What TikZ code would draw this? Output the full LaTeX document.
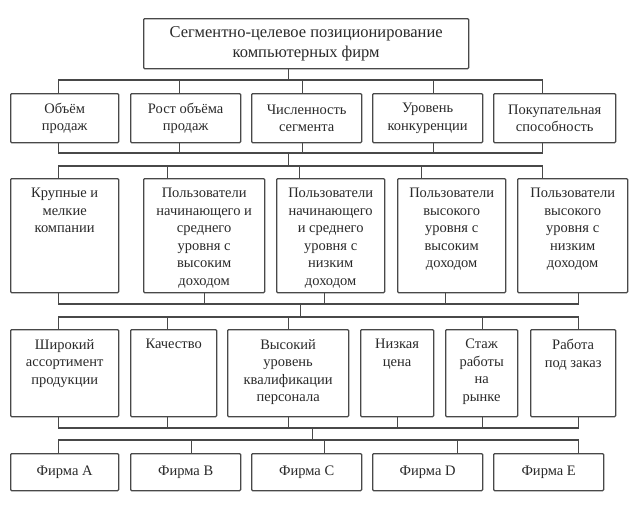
\documentclass[tikz,border=0pt]{standalone}
\usepackage{fontspec}
\setmainfont{Liberation Serif}
\usetikzlibrary{calc}
\definecolor{lc}{HTML}{484848}
\definecolor{tc}{HTML}{2A2A2A}
\newcommand{\tbox}[3]{\parbox[c][#2][t]{#1}{\vspace*{9.5pt}\centering #3\par}}
\newcommand{\cbox}[3]{\parbox[c][#2][c]{#1}{\centering #3\par}}
\tikzset{
  bx/.style={draw=lc, line width=1.3pt, inner sep=0pt, anchor=north west,
    rounded corners=1pt, text=tc, font=\fontsize{14.5}{17.5}\selectfont, fill=white},
  conn/.style={draw=lc, line width=1.3pt, line cap=rect}
}
\begin{document}
\begin{tikzpicture}[x=1pt,y=-1pt]
\useasboundingbox[fill=white] (0,0) rectangle (636,504);
% bus levels
\coordinate (L1) at (0,80);
\coordinate (L2) at (0,153);
\coordinate (L3) at (0,166);
\coordinate (L4) at (0,304);
\coordinate (L5) at (0,317);
\coordinate (L6) at (0,428);
\coordinate (L7) at (0,440);
% top
\node[bx, font=\fontsize{16.5}{20}\selectfont] (top) at (143,18)
  {\cbox{325pt}{50pt}{Сегментно-целевое позиционирование\\компьютерных фирм}};
% row 1
\node[bx] (a1) at (10,93)  {\cbox{108pt}{49pt}{Объём\\продаж}};
\node[bx] (a2) at (130,93) {\cbox{110pt}{49pt}{Рост объёма\\продаж}};
\node[bx] (a3) at (251,93) {\cbox{110pt}{49pt}{Численность\\сегмента}};
\node[bx] (a4) at (372,93) {\cbox{110pt}{49pt}{Уровень\\конкуренции}};
\node[bx] (a5) at (493,93) {\cbox{122pt}{49pt}{Покупательная\\способность}};
% row 2
\node[bx] (b1) at (10,178)  {\tbox{108pt}{114pt}{Крупные и\\мелкие\\компании}};
\node[bx] (b2) at (143,178) {\tbox{121pt}{114pt}{Пользователи\\начинающего и\\среднего\\уровня с\\высоким\\доходом}};
\node[bx] (b3) at (276,178) {\tbox{108pt}{114pt}{Пользователи\\начинающего\\и среднего\\уровня с\\низким\\доходом}};
\node[bx] (b4) at (397,178) {\tbox{108pt}{114pt}{Пользователи\\высокого\\уровня с\\высоким\\доходом}};
\node[bx] (b5) at (517,178) {\tbox{110pt}{114pt}{Пользователи\\высокого\\уровня с\\низким\\доходом}};
% row 3
\node[bx] (c1) at (10,329)  {\tbox{108pt}{87pt}{Широкий\\ассортимент\\продукции}};
\node[bx] (c2) at (130,329) {\tbox{86pt}{87pt}{Качество}};
\node[bx] (c3) at (227,329) {\tbox{121pt}{87pt}{Высокий\\уровень\\квалификации\\персонала}};
\node[bx] (c4) at (360,329) {\tbox{73pt}{87pt}{Низкая\\цена}};
\node[bx] (c5) at (445,329) {\tbox{72pt}{87pt}{Стаж\\работы\\на\\рынке}};
\node[bx] (c6) at (530,329) {\tbox{85pt}{87pt}{Работа\\под заказ}};
% row 4
\node[bx] (d1) at (10,453)  {\cbox{108pt}{37pt}{Фирма A}};
\node[bx] (d2) at (130,453) {\cbox{110pt}{37pt}{Фирма B}};
\node[bx] (d3) at (251,453) {\cbox{110pt}{37pt}{Фирма C}};
\node[bx] (d4) at (372,453) {\cbox{110pt}{37pt}{Фирма D}};
\node[bx] (d5) at (493,453) {\cbox{110pt}{37pt}{Фирма E}};
% top -> bus 1
\draw[conn] ([xshift=-17.5pt]top.south) -- ([xshift=-17.5pt]top.south |- L1);
\draw[conn] ([xshift=-6pt]a1.north |- L1) -- ([xshift=-12pt]a5.north |- L1);
\foreach \n/\d in {a1/-6,a2/-6,a3/-4,a4/6,a5/-12}
  {\draw[conn] ([xshift=\d pt]\n.north) -- ([xshift=\d pt]\n.north |- L1);}
% row 1 -> bus 2
\foreach \n/\d in {a1/-6,a2/-6,a3/-4,a4/6,a5/-12}
  {\draw[conn] ([xshift=\d pt]\n.south) -- ([xshift=\d pt]\n.south |- L2);}
\draw[conn] ([xshift=-6pt]a1.south |- L2) -- ([xshift=-12pt]a5.south |- L2);
\draw[conn] ([xshift=-17.5pt]top.south |- L2) -- ([xshift=-17.5pt]top.south |- L3);
% bus 3 -> row 2
\draw[conn] ([xshift=-6pt]b1.north |- L3) -- ([xshift=-30pt]b5.north |- L3);
\foreach \n/\d in {b1/-6,b2/-36.5,b3/-31,b4/-30,b5/-30}
  {\draw[conn] ([xshift=\d pt]\n.north) -- ([xshift=\d pt]\n.north |- L3);}
% row 2 -> bus 4
\foreach \n/\d in {b1/-6,b2/0,b3/-6,b4/-6,b5/6}
  {\draw[conn] ([xshift=\d pt]\n.south) -- ([xshift=\d pt]\n.south |- L4);}
\draw[conn] ([xshift=-6pt]b1.south |- L4) -- ([xshift=6pt]b5.south |- L4);
\draw[conn] ([xshift=-30pt]b3.south |- L4) -- ([xshift=-30pt]b3.south |- L5);
% bus 5 -> row 3
\draw[conn] ([xshift=-6pt]c1.north |- L5) -- ([xshift=5.5pt]c6.north |- L5);
\foreach \n/\d in {c1/-6,c2/-6,c3/0,c5/1,c6/5.5}
  {\draw[conn] ([xshift=\d pt]\n.north) -- ([xshift=\d pt]\n.north |- L5);}
% row 3 -> bus 6
\foreach \n/\d in {c1/-6,c2/-6,c3/0,c4/0,c5/1,c6/5.5}
  {\draw[conn] ([xshift=\d pt]\n.south) -- ([xshift=\d pt]\n.south |- L6);}
\draw[conn] ([xshift=-6pt]c1.south |- L6) -- ([xshift=5.5pt]c6.south |- L6);
\draw[conn] ([xshift=24.5pt]c3.south |- L6) -- ([xshift=24.5pt]c3.south |- L7);
% bus 7 -> row 4
\draw[conn] ([xshift=-6pt]d1.north |- L7) -- ([xshift=30pt]d5.north |- L7);
\foreach \n/\d in {d1/-6,d2/6,d3/18,d4/30,d5/30}
  {\draw[conn] ([xshift=\d pt]\n.north) -- ([xshift=\d pt]\n.north |- L7);}
\end{tikzpicture}
\end{document}
